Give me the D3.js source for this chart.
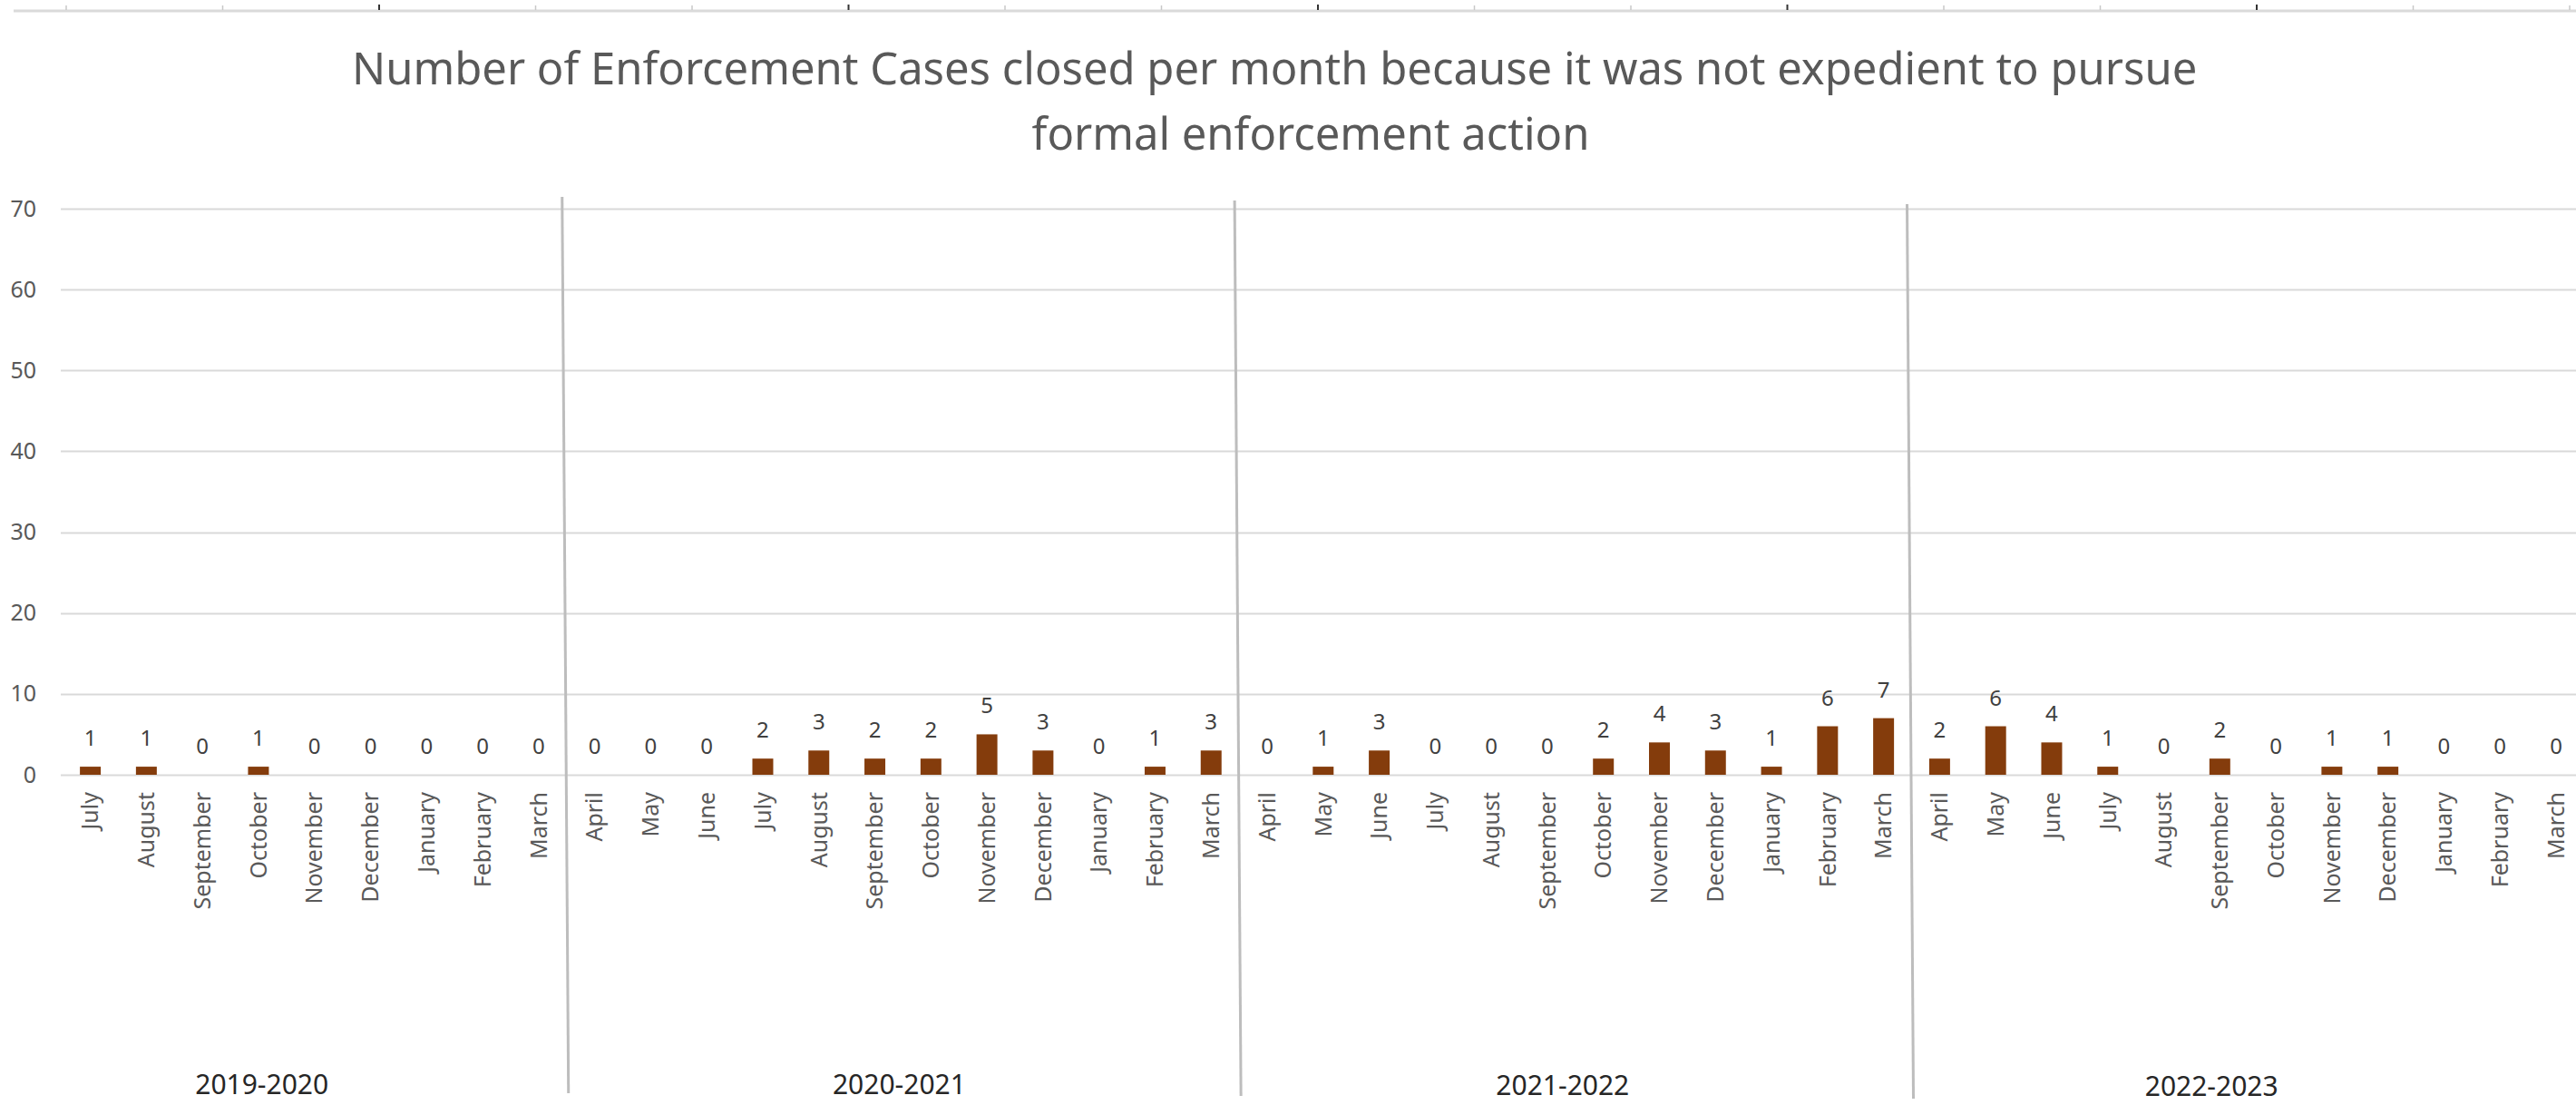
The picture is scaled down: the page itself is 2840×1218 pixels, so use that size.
<!DOCTYPE html>
<html>
<head>
<meta charset="utf-8">
<script src="https://cdn.jsdelivr.net/npm/d3@7/dist/d3.min.js"></script>
<style>
  html, body { margin: 0; padding: 0; background: #ffffff; }
  svg { display: block; }
</style>
</head>
<body>
<svg id="chart" width="2840" height="1218"></svg>
<script>
// ---------------- data ----------------
const titleLines = [
  "Number of Enforcement Cases closed per month because it was not expedient to pursue",
  "formal enforcement action"
];
const years = ["2019-2020", "2020-2021", "2021-2022", "2022-2023"];
const months2019 = ["July","August","September","October","November","December","January","February","March"];
const monthsFull = ["April","May","June","July","August","September","October","November","December","January","February","March"];
const values2019 = [1,1,0,1,0,0,0,0,0];
const values2020 = [0,0,0,2,3,2,2,5,3,0,1,3];
const values2021 = [0,1,3,0,0,0,2,4,3,1,6,7];
const values2022 = [2,6,4,1,0,2,0,1,1,0,0,0];
const yTicks = [0,10,20,30,40,50,60,70];

// build records
const groups = [
  { year: years[0], months: months2019, values: values2019 },
  { year: years[1], months: monthsFull, values: values2020 },
  { year: years[2], months: monthsFull, values: values2021 },
  { year: years[3], months: monthsFull, values: values2022 }
];
const records = [];
groups.forEach((g, gi) => g.months.forEach((m, i) => records.push({ key: g.year + "|" + m, month: m, value: g.values[i], group: gi })));

// ---------------- layout ----------------
const W = 2840, H = 1218;
const svg = d3.select("#chart");
const FONT = "'Noto Sans', 'Open Sans', sans-serif";

const x = d3.scaleBand()
  .domain(records.map(d => d.key))
  .range([68.7, 2848.9])
  .paddingInner(0.628)
  .paddingOuter(0.314);
const y = d3.scaleLinear().domain([0, 70]).range([854, 230]);
const cx = k => x(k) + x.bandwidth() / 2;

// top ruler decoration
const ruler = svg.append("g");
ruler.append("line").attr("x1", 15).attr("x2", W).attr("y1", 12).attr("y2", 12)
  .attr("stroke", "#dadada").attr("stroke-width", 3);
d3.range(17).forEach(k => {
  const tx = 73 + 172.5 * k;
  const major = k % 3 === 2;
  ruler.append("line").attr("x1", tx).attr("x2", tx).attr("y1", major ? 5 : 6).attr("y2", 11)
    .attr("stroke", major ? "#333" : "#c8c8c8").attr("stroke-width", major ? 2 : 1.5);
});

// title
const title = svg.append("g").attr("fill", "#595959").style("font-family", FONT);
const t1 = title.append("text").attr("x", 388).attr("y", 93).text(titleLines[0]).style("font-size", "100px");
const natural = t1.node().getComputedTextLength();
const tSize = 100 * 2035 / natural;
t1.style("font-size", tSize + "px");
title.append("text").attr("x", 1445).attr("y", 165).attr("text-anchor", "middle")
  .style("font-size", tSize + "px").text(titleLines[1]);

// gridlines
const grid = svg.append("g");
grid.selectAll("line").data(yTicks).join("line")
  .attr("x1", 67).attr("x2", W)
  .attr("y1", d => Math.round(y(d)) + 0.5).attr("y2", d => Math.round(y(d)) + 0.5)
  .attr("stroke", "#d9d9d9").attr("stroke-width", 2);

// y axis via d3.axisLeft
const yAxis = svg.append("g").attr("transform", "translate(40,0)")
  .call(d3.axisLeft(y).tickValues(yTicks).tickSize(0).tickPadding(0).tickFormat(d3.format("d")));
yAxis.select(".domain").remove();
yAxis.selectAll("text").attr("fill", "#595959").style("font-family", FONT).style("font-size", "25px");

// group separators
const boundaries = [8, 20, 32].map(i => cx(records[i].key) + x.step() / 2);
svg.append("g").selectAll("line").data(boundaries).join("line")
  .attr("x1", (b) => b - 5).attr("x2", (b) => b + 2)
  .attr("y1", (b, i) => 217 + 4 * i).attr("y2", (b, i) => 1205 + 3 * i)
  .attr("stroke", "#bdbdbd").attr("stroke-width", 3);

// bars
svg.append("g").selectAll("rect").data(records).join("rect")
  .attr("x", d => x(d.key))
  .attr("width", x.bandwidth())
  .attr("y", d => y(d.value))
  .attr("height", d => y(0) - y(d.value))
  .attr("fill", "#843C0C");

// value labels
svg.append("g").selectAll("text").data(records).join("text")
  .attr("x", d => cx(d.key))
  .attr("y", d => y(d.value) - 23)
  .attr("text-anchor", "middle")
  .attr("fill", "#404040")
  .style("font-family", FONT).style("font-size", "24px")
  .text(d => d.value);

// month labels (rotated)
svg.append("g").selectAll("text").data(records).join("text")
  .attr("transform", d => `translate(${cx(d.key)},873) rotate(-90)`)
  .attr("text-anchor", "end")
  .attr("dy", "0.35em")
  .attr("fill", "#595959")
  .style("font-family", FONT).style("font-size", "25px")
  .text(d => d.month);

// year labels
const yearNudge = [-58, -4, -14, -40];
const yearBase = [1206, 1206, 1207, 1208];
svg.append("g").selectAll("text").data(groups).join("text")
  .attr("x", (g, gi) => {
    const recs = records.filter(r => r.group === gi);
    return (cx(recs[0].key) + cx(recs[recs.length - 1].key)) / 2 + yearNudge[gi];
  })
  .attr("y", (g, gi) => yearBase[gi])
  .attr("text-anchor", "middle")
  .attr("fill", "#262626")
  .style("font-family", FONT).style("font-size", "30px")
  .text(g => g.year);
</script>
</body>
</html>
